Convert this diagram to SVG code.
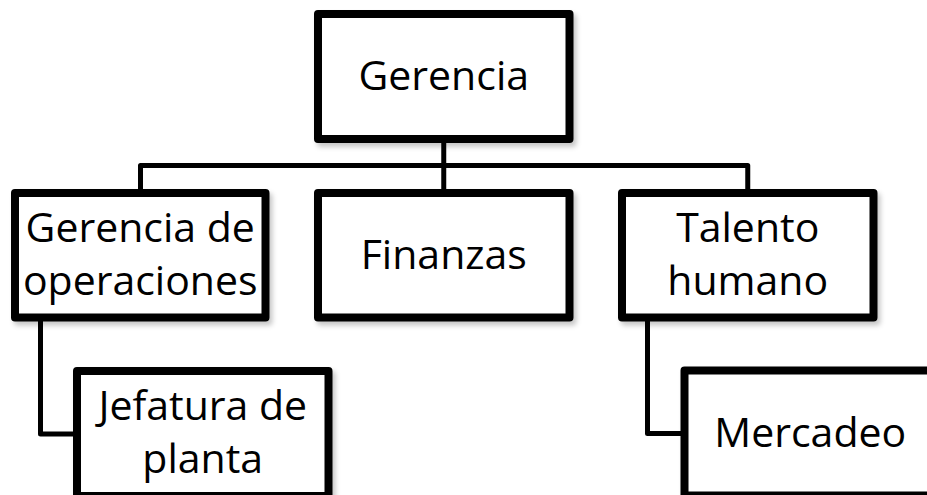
<svg xmlns="http://www.w3.org/2000/svg" width="927" height="495" viewBox="0 0 927 495">
<defs>
<filter id="sh" x="-10%" y="-10%" width="125%" height="130%">
<feDropShadow dx="3" dy="4" stdDeviation="2.5" flood-color="#000" flood-opacity="0.22"/>
</filter>
<style>
.box{fill:#fff;stroke:#000;stroke-width:8;stroke-linejoin:round;filter:url(#sh)}
.lbl{font-family:"Open Sans","Liberation Sans",sans-serif;font-size:41px;fill:#000;text-anchor:middle}
.con{fill:none;stroke:#000;stroke-width:5;stroke-linejoin:round}
</style>
</defs>
<rect width="927" height="495" fill="#fff"/>
<g id="connectors">
<path class="con" d="M443.75 139 V193"/>
<path class="con" d="M140.5 193 V165.5 H747.75 V193"/>
<path class="con" d="M40.5 317.5 V434 H77"/>
<path class="con" d="M647.5 317.5 V433.5 H684.5"/>
</g>
<g id="gerencia">
<rect class="box" x="318" y="14" width="251.5" height="125"/>
<text class="lbl" x="443.75" y="89.5">Gerencia</text>
</g>
<g id="gerencia-operaciones">
<rect class="box" x="15" y="193" width="250.5" height="124.5"/>
<text class="lbl" x="140.25" y="242">Gerencia de</text>
<text class="lbl" x="140.25" y="295">operaciones</text>
</g>
<g id="finanzas">
<rect class="box" x="318" y="193" width="251.5" height="124.5"/>
<text class="lbl" x="443.75" y="268.5">Finanzas</text>
</g>
<g id="talento-humano">
<rect class="box" x="622" y="193" width="251.5" height="124.5"/>
<text class="lbl" x="747.75" y="242">Talento</text>
<text class="lbl" x="747.75" y="295">humano</text>
</g>
<g id="jefatura-planta">
<rect class="box" x="77" y="371" width="251.5" height="125"/>
<text class="lbl" x="202.75" y="420">Jefatura de</text>
<text class="lbl" x="202.75" y="473">planta</text>
</g>
<g id="mercadeo">
<rect class="box" x="684.5" y="370.5" width="251.5" height="125"/>
<text class="lbl" x="810.25" y="447">Mercadeo</text>
</g>
</svg>
